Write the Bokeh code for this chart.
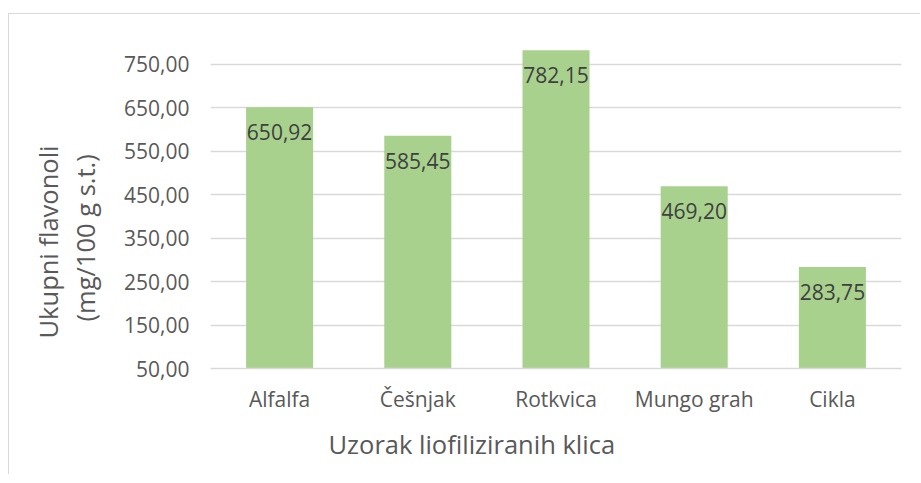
from bokeh.plotting import figure
from bokeh.models import ColumnDataSource, FixedTicker, CustomJSTickFormatter, Range1d, Title
from bokeh.core.properties import value
from bokeh.embed import file_html
from bokeh.resources import INLINE

categories = ["Alfalfa", "Češnjak", "Rotkvica", "Mungo grah", "Cikla"]
values = [650.92, 585.45, 782.15, 469.20, 283.75]
y_ticks = [50, 150, 250, 350, 450, 550, 650, 750]
x_title = "Uzorak liofiliziranih klica"
y_title_1 = "Ukupni flavonoli"
y_title_2 = "(mg/100 g s.t.)"

labels = [f"{v:.2f}".replace(".", ",") for v in values]
src = ColumnDataSource(data=dict(cat=categories, val=values, lab=labels))

FONT = "Open Sans"
GRAY = "#595959"

p = figure(x_range=categories, y_range=Range1d(50, 800), width=912, height=461,
           output_backend="svg", toolbar_location=None,
           min_border_left=201, min_border_right=20, min_border_top=28, min_border_bottom=107)
p.margin = (13, 0, 0, 8)
p.styles = {"border-left": "1px solid #d9d9d9", "border-top": "1px solid #d9d9d9"}
p.outline_line_color = None

p.vbar(x="cat", top="val", bottom=50, width=0.485, source=src,
       fill_color="#A9D18E", line_color=None)
p.text(x="cat", y="val", text="lab", source=src, text_align="center",
       text_baseline="middle", y_offset=25, text_font=value(FONT),
       text_font_size="21px", text_color="#404040")

p.yaxis.ticker = FixedTicker(ticks=y_ticks)
p.yaxis.formatter = CustomJSTickFormatter(code="return tick.toFixed(2).replace('.', ',');")
p.yaxis.axis_line_color = None
p.yaxis.major_tick_line_color = None
p.yaxis.major_tick_out = 0
p.yaxis.minor_tick_line_color = None
p.yaxis.minor_tick_out = 0
p.yaxis.major_label_standoff = 21
p.yaxis.major_label_text_font = FONT
p.yaxis.major_label_text_font_size = "21px"
p.yaxis.major_label_text_color = GRAY
# invisible spacer between tick labels and the titles
p.yaxis.axis_label = " "
p.yaxis.axis_label_text_font_size = "1px"
p.yaxis.axis_label_standoff = 13

p.xaxis.axis_line_color = "#d9d9d9"
p.xaxis.axis_line_width = 1.5
p.xaxis.major_tick_line_color = None
p.xaxis.major_tick_out = 0
p.xaxis.minor_tick_line_color = None
p.xaxis.minor_tick_out = 0
p.xaxis.major_label_standoff = 16
p.xaxis.major_label_text_font = FONT
p.xaxis.major_label_text_font_size = "21px"
p.xaxis.major_label_text_color = GRAY

# axis titles, placed off-centre as in the reference
def side_title(text, offset, standoff):
    return Title(text=text, align="left", offset=offset, standoff=standoff,
                 text_font=FONT, text_font_size="25.5px", text_font_style="normal",
                 text_color=GRAY)

p.add_layout(side_title(y_title_2, 47, 3), "left")
p.add_layout(side_title(y_title_1, 30, 0), "left")
p.add_layout(side_title(x_title, 118, 19), "below")

p.xgrid.grid_line_color = None
p.ygrid.grid_line_color = "#d9d9d9"
p.ygrid.grid_line_width = 1.5
p.x_range.range_padding = 0

open("out.html", "w").write(file_html(p, INLINE))
